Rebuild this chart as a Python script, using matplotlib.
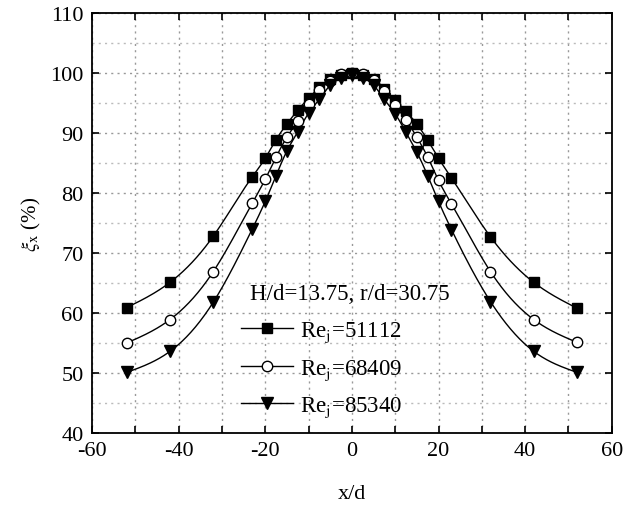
import numpy as np
import matplotlib
matplotlib.use("Agg")
import matplotlib.pyplot as plt
from matplotlib.ticker import MultipleLocator

plt.rcParams['font.family'] = ['Liberation Serif', 'DejaVu Serif']
plt.rcParams['mathtext.fontset'] = 'stix'
plt.rcParams['axes.unicode_minus'] = False

# ---- data ----
x_pos = [-52, -42, -32, -23, -20, -17.5, -15, -12.5, -10, -7.5, -5, -2.5, 0,
         2.5, 5, 7.5, 10, 12.5, 15, 17.5, 20, 23, 32, 42, 52]
re_51112 = [60.9, 65.1, 72.8, 82.7, 85.8, 88.9, 91.5, 93.8, 95.8, 97.6, 99.0, 99.6, 100.0,
            99.6, 99.0, 97.4, 95.5, 93.6, 91.5, 88.8, 85.8, 82.5, 72.7, 65.1, 60.8]
re_68409 = [55.0, 58.9, 66.9, 78.3, 82.3, 86.0, 89.3, 92.0, 94.8, 97.2, 98.7, 99.9, 100.0,
            99.9, 98.8, 97.0, 94.6, 92.2, 89.3, 86.0, 82.1, 78.2, 66.9, 58.9, 55.1]
re_85340 = [50.1, 53.6, 61.8, 74.0, 78.6, 82.9, 87.0, 90.2, 93.3, 95.6, 98.0, 99.2, 99.6,
            99.2, 98.0, 95.6, 93.2, 90.1, 86.8, 82.9, 78.6, 73.9, 61.9, 53.6, 50.1]
labels = ['51112', '68409', '85340']
legend_title = 'H/d=13.75, r/d=30.75'
x_ticks = [-60, -40, -20, 0, 20, 40, 60]
y_ticks = [40, 50, 60, 70, 80, 90, 100, 110]


def smooth(x, y, n=400):
    """Natural cubic spline through the data points (for the connecting curve)."""
    x = np.asarray(x, float)
    y = np.asarray(y, float)
    m = len(x)
    h = np.diff(x)
    A = np.zeros((m, m))
    b = np.zeros(m)
    A[0, 0] = A[-1, -1] = 1
    for i in range(1, m - 1):
        A[i, i - 1] = h[i - 1]
        A[i, i] = 2 * (h[i - 1] + h[i])
        A[i, i + 1] = h[i]
        b[i] = 6 * ((y[i + 1] - y[i]) / h[i] - (y[i] - y[i - 1]) / h[i - 1])
    M = np.linalg.solve(A, b)
    xs = np.linspace(x[0], x[-1], n)
    idx = np.clip(np.searchsorted(x, xs) - 1, 0, m - 2)
    x0, x1 = x[idx], x[idx + 1]
    hh = x1 - x0
    t1 = x1 - xs
    t0 = xs - x0
    ys = (M[idx] * t1 ** 3 / (6 * hh) + M[idx + 1] * t0 ** 3 / (6 * hh)
          + (y[idx] / hh - M[idx] * hh / 6) * t1
          + (y[idx + 1] / hh - M[idx + 1] * hh / 6) * t0)
    return xs, ys


fig = plt.figure(figsize=(6.27, 5.10), dpi=100)
ax = fig.add_axes([0.1467, 0.149, 0.829, 0.8235])

series = [re_51112, re_68409, re_85340]
styles = [dict(marker='s', mfc='black', ms=6.8),
          dict(marker='o', mfc='white', ms=7.5),
          dict(marker='v', mfc='black', ms=8.5)]
handles = []
for ys, st, lab in zip(series, styles, labels):
    sx, sy = smooth(x_pos, ys)
    ax.plot(sx, sy, color='black', lw=1.0, zorder=2)
    ax.plot(x_pos, ys, linestyle='none', marker=st['marker'], mfc=st['mfc'],
            mec='black', mew=1.0, ms=st['ms'], zorder=3)
    h, = ax.plot([], [], color='black', lw=1.0, marker=st['marker'], mfc=st['mfc'],
                 mec='black', mew=1.0, ms=st['ms'])
    handles.append((h, r'Re$_{\mathrm{j}}$=' + lab))

ax.set_xlim(-60, 60)
ax.set_ylim(40, 110)
ax.set_xticks(x_ticks)
ax.set_yticks(y_ticks)
ax.xaxis.set_minor_locator(MultipleLocator(10))
ax.yaxis.set_minor_locator(MultipleLocator(5))
ax.tick_params(which='both', direction='in', top=True, right=True, labelsize=16)
ax.tick_params(axis='x', pad=6)
ax.tick_params(axis='y', pad=6)
ax.tick_params(which='major', length=5, width=1.2)
ax.tick_params(which='minor', length=5, width=1.2)
ax.tick_params(axis='y', which='minor', length=0)
for s in ax.spines.values():
    s.set_linewidth(1.3)

ax.grid(True, which='major', axis='both', color='#999999', linestyle=(0, (1.5, 3)), lw=1.0)
ax.grid(True, which='minor', axis='x', color='#999999', linestyle=(0, (1.5, 3)), lw=1.0)
ax.grid(True, which='minor', axis='y', color='#bbbbbb', linestyle=(0, (1.5, 3)), lw=1.0)
ax.set_axisbelow(True)

ax.set_xlabel('x/d', fontsize=16, labelpad=17)
ax.set_ylabel(r'$\xi_{\mathrm{x}}$ (%)', fontsize=15, labelpad=5)

ax.text(0.304, 0.331, legend_title, transform=ax.transAxes, fontsize=16.5,
        ha='left', va='center')
leg = ax.legend([h for h, _ in handles], [l for _, l in handles],
                loc='upper left', bbox_to_anchor=(0.2688, 0.2925), frameon=False,
                fontsize=16.5, handlelength=2.27, handletextpad=0.3,
                labelspacing=0.58, borderaxespad=0)

fig.savefig('out.png', dpi=100)
